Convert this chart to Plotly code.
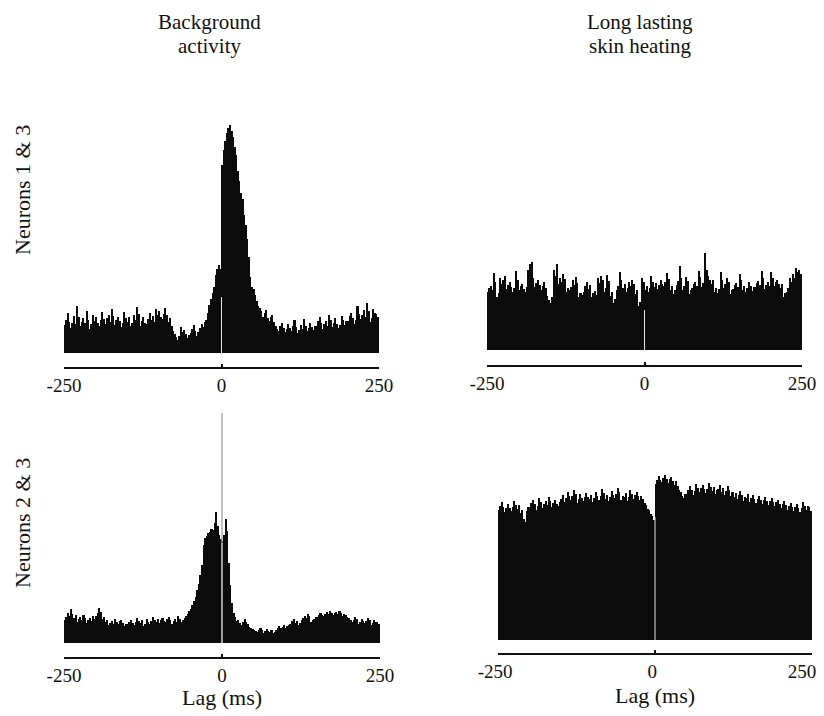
import plotly.graph_objects as go

# ---------------- data (2.5 ms bins, lag -250..250 ms; counts in arbitrary units) ----------------
bin_width = 2.5
lags = [-248.75 + 2.5 * i for i in range(200)]

bg_13 = [28, 33, 40, 31, 25, 30, 37, 29, 47, 36, 27, 31, 35, 30, 42, 33, 24, 29, 38, 32,
         36, 30, 27, 33, 41, 34, 29, 35, 38, 31, 44, 37, 28, 33, 36, 32, 26, 30, 41, 35,
         31, 36, 27, 30, 38, 33, 46, 39, 27, 32, 36, 30, 29, 34, 40, 33, 37, 31, 44, 38,
         42, 36, 34, 39, 45, 38, 31, 35, 27, 22, 19, 16, 13, 17, 26, 21, 23, 19, 15, 18,
         20, 24, 28, 22, 17, 21, 25, 29, 26, 31, 33, 40, 48, 54, 60, 66, 78, 84, 88, 84,
         188, 203, 212, 220, 225, 228, 222, 216, 206, 198, 182, 172, 160, 154, 138, 128, 114, 96, 76, 66,
         64, 58, 52, 47, 45, 42, 36, 40, 43, 35, 32, 36, 38, 31, 27, 24, 22, 27, 30, 25,
         21, 24, 29, 25, 22, 27, 33, 26, 20, 23, 28, 24, 34, 27, 22, 25, 30, 26, 23, 27,
         27, 32, 36, 30, 24, 29, 32, 27, 38, 33, 26, 30, 35, 29, 25, 28, 37, 33, 28, 32,
         32, 37, 40, 35, 29, 33, 47, 39, 34, 38, 43, 36, 50, 42, 31, 35, 44, 40, 39, 36]

heat_13 = [58, 62, 64, 60, 77, 68, 53, 57, 72, 66, 70, 74, 61, 65, 68, 63, 58, 62, 79, 70,
           60, 64, 66, 61, 58, 63, 80, 86, 88, 72, 63, 67, 70, 65, 60, 64, 68, 62, 54, 50,
           47, 53, 80, 74, 86, 66, 72, 68, 76, 71, 58, 62, 60, 63, 70, 65, 73, 67, 53, 57,
           55, 58, 64, 68, 61, 65, 53, 57, 59, 55, 72, 67, 74, 70, 58, 62, 75, 69, 54, 58,
           47, 51, 60, 64, 78, 70, 62, 66, 58, 62, 68, 64, 70, 66, 56, 60, 44, 48, 72, 68,
           60, 64, 58, 62, 74, 68, 63, 67, 61, 65, 70, 66, 64, 68, 77, 71, 60, 64, 56, 60,
           65, 69, 84, 72, 60, 64, 73, 69, 56, 60, 62, 66, 68, 64, 79, 73, 63, 67, 97, 80,
           74, 70, 66, 70, 58, 62, 57, 61, 78, 70, 62, 66, 72, 68, 56, 60, 61, 65, 67, 63,
           76, 70, 60, 64, 58, 62, 68, 64, 59, 63, 63, 67, 69, 65, 79, 72, 61, 65, 68, 64,
           78, 72, 64, 68, 70, 66, 62, 66, 53, 57, 58, 62, 72, 68, 76, 72, 82, 78, 80, 76]

bg_23 = [23, 26, 30, 27, 34, 29, 25, 28, 21, 24, 26, 23, 28, 25, 20, 23, 25, 22, 27, 24,
         27, 30, 35, 31, 24, 26, 21, 23, 18, 20, 22, 19, 24, 21, 19, 22, 23, 20, 17, 19,
         19, 21, 23, 20, 18, 21, 25, 22, 20, 23, 17, 19, 24, 21, 19, 22, 26, 23, 21, 24,
         20, 23, 25, 22, 21, 24, 26, 23, 19, 22, 24, 21, 27, 24, 21, 23, 25, 27, 29, 32,
         34, 38, 42, 46, 53, 59, 68, 78, 98, 105, 107, 110, 111, 114, 113, 120, 131, 117, 108, 104,
         102, 108, 124, 112, 80, 58, 40, 30, 26, 22, 23, 20, 18, 21, 24, 21, 19, 16, 15, 14,
         13, 12, 11, 13, 15, 13, 10, 12, 14, 12, 11, 13, 10, 11, 13, 15, 17, 15, 16, 18,
         15, 17, 18, 19, 22, 24, 20, 22, 18, 20, 23, 25, 27, 25, 29, 27, 21, 23, 24, 26,
         26, 28, 30, 28, 27, 29, 31, 29, 32, 30, 28, 30, 31, 29, 32, 30, 27, 29, 28, 26,
         25, 23, 21, 23, 26, 24, 19, 21, 24, 22, 20, 22, 25, 23, 18, 20, 23, 21, 21, 19]

heat_23 = [130, 134, 138, 133, 128, 132, 136, 132, 129, 133, 139, 135, 131, 135, 127, 130, 121, 118, 129, 133,
           133, 137, 140, 136, 130, 134, 142, 138, 132, 136, 139, 135, 143, 139, 133, 137, 140, 136, 134, 138,
           141, 145, 138, 142, 148, 144, 140, 144, 150, 146, 137, 141, 146, 142, 139, 143, 147, 143, 141, 145,
           138, 142, 148, 144, 140, 144, 151, 147, 141, 145, 139, 143, 149, 145, 142, 146, 152, 148, 140, 144,
           143, 147, 139, 143, 150, 146, 141, 145, 148, 144, 140, 144, 141, 137, 135, 131, 130, 126, 124, 120,
           156, 160, 164, 160, 158, 162, 165, 161, 157, 161, 163, 159, 155, 159, 154, 150, 148, 144, 142, 146,
           146, 150, 154, 150, 145, 149, 156, 152, 148, 152, 155, 151, 147, 151, 157, 153, 149, 153, 146, 150,
           151, 155, 148, 152, 145, 149, 154, 150, 144, 148, 143, 147, 141, 145, 149, 145, 139, 143, 142, 146,
           138, 142, 145, 141, 137, 141, 144, 140, 136, 140, 143, 139, 135, 139, 142, 138, 134, 138, 140, 136,
           132, 136, 139, 135, 130, 134, 137, 133, 129, 133, 136, 132, 128, 132, 138, 134, 130, 134, 133, 129]

# height of the lag-0 marker line in each panel (TL, TR, BL, BR)
zero_marks = [56, 40, 230, 123]
bl_zero_inside = 100

col_titles = [["Background", "activity"], ["Long lasting", "skin heating"]]
row_titles = ["Neurons 1 & 3", "Neurons 2 & 3"]
tick_vals = [-250, 0, 250]
tick_text = ["-250", "0", "250"]
x_title = "Lag (ms)"

# ---------------- layout helpers ----------------
OFF = 8                      # page body margin of the browser
W, H = 824 - OFF, 716 - OFF
FONT = "Liberation Serif, Times New Roman, serif"
NBSP = "\u00a0"

def px_x(p):
    return (p - OFF) / W

def px_y(p):
    return 1 - (p - OFF) / H

# panels: (x_left_px, x_right_px, axis_line_px, top_px, y_range, label_shift, left_pad)
panels = [
    (64, 379, 367, 110, [-14, 243], 0, 0),
    (487, 802, 365, 240, [-15, 110], 0, 0),
    (64, 380, 657, 405, [-14, 238], 0, 0),
    (498, 812, 653, 470, [-13, 170], -10, 3),
]
series = [bg_13, heat_13, bg_23, heat_23]

fig = go.Figure()
layout = dict(
    width=W, height=H,
    margin=dict(l=0, r=0, t=0, b=0, pad=0, autoexpand=False),
    paper_bgcolor="white", plot_bgcolor="white",
    showlegend=False, bargap=0, barmode="overlay",
    font=dict(family=FONT, color="#111", size=19),
)
shapes = []
annotations = []

for i, ((xl, xr, yb, yt, yr, shift, pad), vals) in enumerate(zip(panels, series)):
    n = "" if i == 0 else str(i + 1)
    fig.add_trace(go.Bar(
        x=lags, y=vals, width=bin_width,
        marker=dict(color="#0b0b0b", line=dict(width=0)),
        xaxis="x" + n, yaxis="y" + n, hoverinfo="skip",
    ))
    labels = [NBSP * pad + t for t in tick_text[:-1]] + [tick_text[-1]]
    layout["xaxis" + n] = dict(
        domain=[px_x(xl), px_x(xr)], anchor="y" + n, range=[-250, 250],
        automargin=False,
        showgrid=False, zeroline=False, showline=True, linecolor="#111", linewidth=2,
        ticks="inside", ticklen=3, tickwidth=1.5, tickcolor="#111",
        tickvals=tick_vals, ticktext=labels, ticklabelstandoff=0,
        ticklabelshift=shift, ticklabeloverflow="allow",
        tickfont=dict(family=FONT, size=19, color="#111"),
    )
    layout["yaxis" + n] = dict(
        domain=[px_y(yb), px_y(yt)], anchor="x" + n, range=yr, visible=False,
        automargin=False,
    )
    xr_ref = "x" + n
    yr_ref = "y" + n
    if i == 2:
        shapes.append(dict(type="line", xref=xr_ref, yref=yr_ref, x0=0, x1=0,
                           y0=0, y1=zero_marks[i], line=dict(color="#9a9a9a", width=1.2)))
        shapes.append(dict(type="line", xref=xr_ref, yref=yr_ref, x0=0, x1=0,
                           y0=0, y1=bl_zero_inside, line=dict(color="#e0e0e0", width=1)))
    else:
        shapes.append(dict(type="line", xref=xr_ref, yref=yr_ref, x0=0, x1=0,
                           y0=0, y1=zero_marks[i], line=dict(color="#e6e6e6", width=1)))

# column titles
for (cx, lines) in zip([209, 640], col_titles):
    for j, (cy, txt) in enumerate(zip([22, 46], lines)):
        annotations.append(dict(text=txt, x=px_x(cx), y=px_y(cy), xref="paper", yref="paper",
                                xanchor="center", yanchor="middle", showarrow=False,
                                font=dict(family=FONT, size=21, color="#111")))
# row titles
for cy, txt in zip([190, 523], row_titles):
    annotations.append(dict(text=txt, x=px_x(22), y=px_y(cy), xref="paper", yref="paper",
                            xanchor="center", yanchor="middle", showarrow=False, textangle=-90,
                            font=dict(family=FONT, size=22, color="#111")))
# x titles
for cx, cy in [(222, 697), (655, 695)]:
    annotations.append(dict(text=x_title, x=px_x(cx), y=px_y(cy), xref="paper", yref="paper",
                            xanchor="center", yanchor="middle", showarrow=False,
                            font=dict(family=FONT, size=22, color="#111")))

layout["shapes"] = shapes
layout["annotations"] = annotations
fig.update_layout(**layout)
fig.write_html("out.html")
